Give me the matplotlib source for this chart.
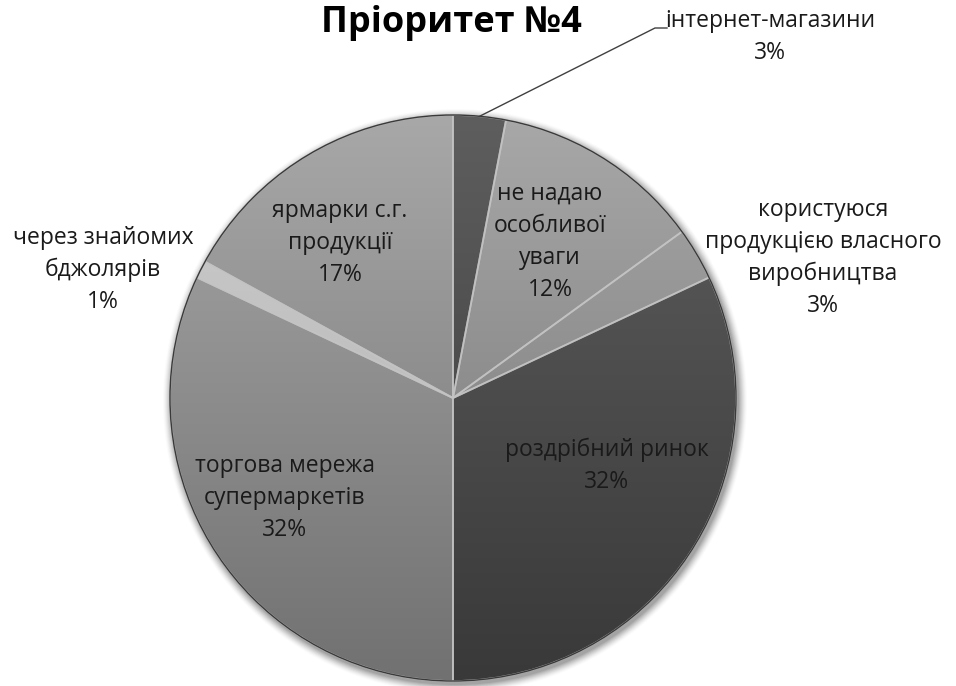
import numpy as np
import matplotlib
matplotlib.use("Agg")
import matplotlib.pyplot as plt
from matplotlib.colors import to_rgb
from matplotlib.patches import Circle, Wedge

plt.rcParams["font.family"] = ["Open Sans", "DejaVu Sans"]

TITLE = "Пріоритет №4"

# slices clockwise from 12 o'clock
labels = [
    "інтернет-магазини",
    "не надаю\nособливої\nуваги",
    "користуюся\nпродукцією власного\nвиробництва",
    "роздрібний ринок",
    "торгова мережа\nсупермаркетів",
    "через знайомих\nбджолярів",
    "ярмарки с.г.\nпродукції",
]
shares = [3, 12, 3, 32, 32, 1, 17]
tones = ["dark", "light", "light", "dark", "light", "pale", "light"]

# label anchor points in figure pixels (x, y from top)
label_xy = [(770, 37), (550, 242), (823, 258), (607, 466),
            (285, 498), (103, 270), (340, 243)]

GRAD = {
    "dark": ("#5e5e5e", "#393939"),
    "light": ("#a8a8a8", "#717171"),
    "pale": ("#cdcdcd", "#b0b0b0"),
}

W, H = 956, 686
CX, CY, R = 453, H - 398, 283

fig = plt.figure(figsize=(W / 100, H / 100), dpi=100)
ax = fig.add_axes([0, 0, 1, 1])

# soft shadow
for k, a in zip(range(9, 0, -1), np.linspace(0.015, 0.08, 9)):
    ax.add_patch(Circle((CX + 2, CY - 3), R + k, color="black", alpha=a, lw=0, zorder=0))

wedges, _ = ax.pie(shares, startangle=90, counterclock=False,
                   center=(CX, CY), radius=R,
                   wedgeprops=dict(linewidth=0))

for w, tone in zip(wedges, tones):
    top, bot = (np.array(to_rgb(c)) for c in GRAD[tone])
    t = np.linspace(0, 1, 256)[:, None, None]
    grad = bot * (1 - t) + top * t
    w.set_facecolor("none")
    im = ax.imshow(grad, extent=(CX - R, CX + R, CY - R, CY + R), origin="lower",
                   aspect="auto", interpolation="bilinear", zorder=2)
    im.set_clip_path(w)
    # bevel-like light edges
    ax.add_patch(Wedge((CX, CY), R, w.theta1, w.theta2, facecolor="none",
                       edgecolor="#c4c4c4", lw=1.3, alpha=0.8, zorder=3))

ax.add_patch(Circle((CX, CY), R, facecolor="none", edgecolor="#3a3a3a", lw=1.0, zorder=4))

for lab, v, (x, y) in zip(labels, shares, label_xy):
    ax.text(x, H - y, f"{lab}\n{v}%", ha="center", va="center", fontsize=16.5,
            color="#1a1a1a", linespacing=1.45, zorder=5)

# leader line for the small top slice
ang = np.deg2rad((wedges[0].theta1 + wedges[0].theta2) / 2)
x0, y0 = CX + R * np.cos(ang), CY + R * np.sin(ang)
ax.plot([x0, 655, 667], [y0, H - 28, H - 28], color="#404040", lw=1, zorder=5)

ax.text(451, H - 32, TITLE, ha="center", va="baseline", fontsize=26,
        fontweight="bold", color="black")

ax.set_xlim(0, W)
ax.set_ylim(0, H)
ax.axis("off")
fig.savefig("out.png", dpi=100, facecolor="white")
